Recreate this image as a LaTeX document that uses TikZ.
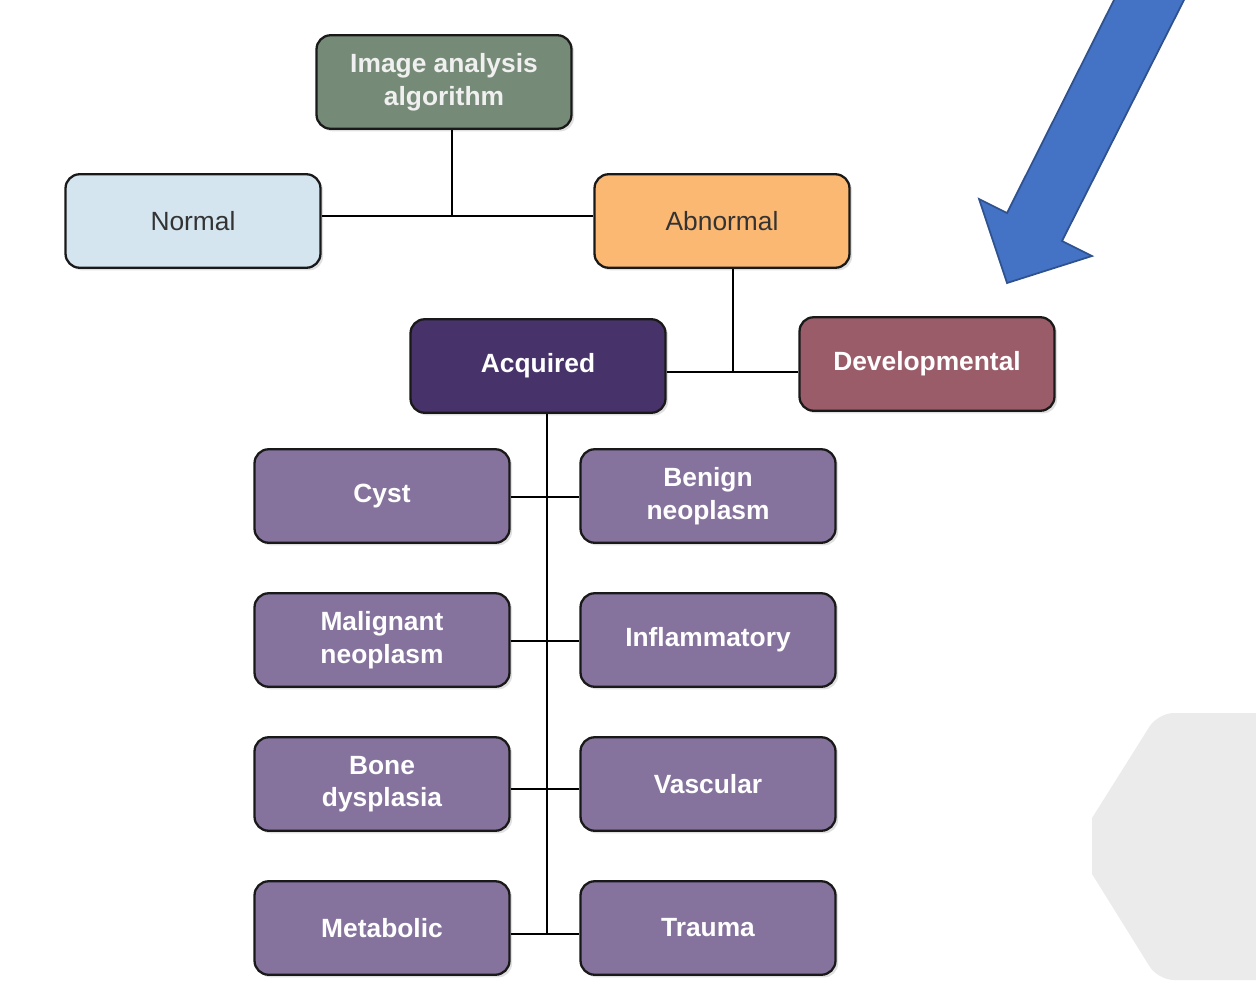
\documentclass[tikz,border=0pt]{standalone}
\usepackage{fontspec}
\setmainfont{Liberation Sans}
\usepackage{tikz}
\usetikzlibrary{shadows}

\definecolor{algfill}{HTML}{768B77}
\definecolor{normfill}{HTML}{D4E5F0}
\definecolor{abnfill}{HTML}{FBB873}
\definecolor{acqfill}{HTML}{47336A}
\definecolor{devfill}{HTML}{9A5C68}
\definecolor{typefill}{HTML}{85739D}
\definecolor{arrowblue}{HTML}{4472C4}
\definecolor{arrowedge}{HTML}{2F528F}
\definecolor{panelgray}{HTML}{EBEBEB}
\definecolor{darktext}{HTML}{333333}

\begin{document}
\begin{tikzpicture}[x=0.02cm,y=-0.02cm,
                box/.style={draw=black!90, line width=1.3pt, rounded corners=8pt,
                    minimum width=5.1cm, minimum height=1.87cm, align=center,
                    font=\fontsize{15pt}{18.5pt}\selectfont,
                    drop shadow={shadow xshift=1.5pt, shadow yshift=-1.5pt, fill=black!20, opacity=0.6}},
                bold box/.style={box, font=\fontsize{15pt}{18.5pt}\selectfont\bfseries, text=white},
                type box/.style={bold box, fill=typefill},
                link/.style={line width=1.1pt, black}]
                \useasboundingbox (0,0) rectangle (1256,1007);

                \fill[panelgray] (1256,713) [rounded corners=9pt] -- (1158,713)
                    [sharp corners] -- (1092,818) -- (1092,874) [rounded corners=9pt] -- (1158,980)
                    [sharp corners] -- (1256,980) -- cycle;

                \node[bold box, fill=algfill, text=white!94!black] (alg) at (444,82) {Image analysis\\algorithm};
                \node[box, fill=normfill, text=darktext] (normal) at (193,221) {Normal};
                \node[box, fill=abnfill, text=darktext] (abn) at (722,221) {Abnormal};
                \node[bold box, fill=acqfill] (acq) at (538,366) {Acquired};
                \node[bold box, fill=devfill] (dev) at (927,364) {Developmental};

                \node[type box] (cyst) at (382,496) {Cyst};
                \node[type box] (benign) at (708,496) {Benign\\neoplasm};
                \node[type box] (malig) at (382,640) {Malignant\\neoplasm};
                \node[type box] (inflam) at (708,640) {Inflammatory};
                \node[type box] (bone) at (382,784) {Bone\\dysplasia};
                \node[type box] (vasc) at (708,784) {Vascular};
                \node[type box] (metab) at (382,928) {Metabolic};
                \node[type box] (trauma) at (708,928) {Trauma};

                \coordinate (j1) at (452,216);
                \draw[link] (alg.south -| j1) -- (j1);
                \draw[link] (normal.east |- j1) -- (abn.west |- j1);

                \coordinate (j2) at (733,372);
                \draw[link] (abn.south -| j2) -- (j2);
                \draw[link] (acq.east |- j2) -- (dev.west |- j2);

                \coordinate (j3) at (547,934);
                \draw[link] (acq.south -| j3) -- (j3);
                \draw[link] (cyst.east |- 0,497) -- (benign.west |- 0,497);
                \draw[link] (malig.east |- 0,641) -- (inflam.west |- 0,641);
                \draw[link] (bone.east |- 0,789) -- (vasc.west |- 0,789);
                \draw[link] (metab.east |- j3) -- (trauma.west |- j3);

                \filldraw[fill=arrowblue, draw=arrowedge, line width=1pt]
                    (1115,-2) -- (1185,-2) -- (1062,241) -- (1092,256)
                    -- (1007,283) -- (979,199) -- (1007,213) -- cycle;
            \end{tikzpicture}
\end{document}
